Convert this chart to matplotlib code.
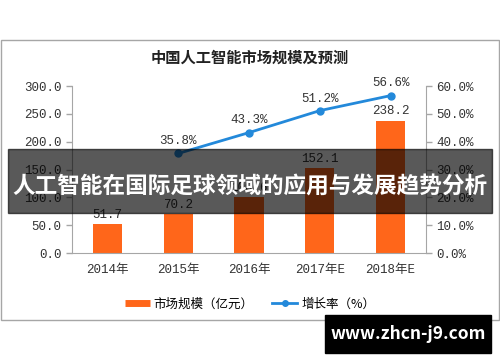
import matplotlib
matplotlib.use("Agg")
from matplotlib import pyplot as plt
from matplotlib.patches import Rectangle
from matplotlib.lines import Line2D
import numpy as np

# data
years = ["2014年", "2015年", "2016年", "2017年E", "2018年E"]
market_size = [51.7, 70.2, 100.6, 152.1, 238.2]
growth_years = ["2015年", "2016年", "2017年E", "2018年E"]
growth_rate = [35.8, 43.3, 51.2, 56.6]

cjk = ["Noto Sans CJK SC", "DejaVu Sans"]
mono = ["Liberation Mono", "Noto Sans CJK SC"]
orange = "#ff661a"
blue = "#2389da"
gray = "#a6a6a6"

fig = plt.figure(figsize=(5.0, 3.62), dpi=100)
ax = fig.add_axes([0.144, 0.301, 0.708, 0.461])
ax2 = ax.twinx()

x = np.arange(len(years))
bars = ax.bar(x, market_size, width=0.41, color=orange, zorder=2)
for xi, v in zip(x, market_size):
    ax.text(xi, v + 6, f"{v:.1f}", ha="center", va="bottom",
            fontsize=9, family=mono, color="#333333")

gx = [years.index(y) for y in growth_years]
ax2.plot(gx, growth_rate, color=blue, lw=2, marker="o", ms=5, zorder=3)
for xi, v in zip(gx, growth_rate):
    ax2.text(xi, v + 2.2, f"{v:.1f}%", ha="center", va="bottom",
             fontsize=9, family=mono, color="#333333")

ax.set_xlim(-0.5, len(years) - 0.5)
ax.set_ylim(0, 300)
ax2.set_ylim(0, 60)
ax.set_yticks(np.arange(0, 301, 50))
ax.set_yticklabels([f"{t:.1f}" for t in np.arange(0, 301, 50)], family=mono, fontsize=9)
ax2.set_yticks(np.arange(0, 61, 10))
ax2.set_yticklabels([f"{t:.1f}%" for t in np.arange(0, 61, 10)], family=mono, fontsize=9)
ax.set_xticks(x)
ax.set_xticklabels(years, family=mono, fontsize=9)

for a in (ax, ax2):
    for s in a.spines.values():
        s.set_visible(False)
    a.tick_params(colors=gray, labelcolor="#333333", length=4, width=1)
ax.spines["left"].set_visible(True)
ax.spines["left"].set_color(gray)
ax.spines["bottom"].set_visible(True)
ax.spines["bottom"].set_color(gray)
ax2.spines["right"].set_visible(True)
ax2.spines["right"].set_color(gray)
ax.tick_params(axis="x", length=0, pad=8)

fig.text(0.5, 0.84, "中国人工智能市场规模及预测", ha="center", va="center",
         fontsize=11, fontweight="bold", family=cjk, color="#222222")

# outer frame
fig.add_artist(Rectangle((0.002, 1 - 320 / 362), 0.996, 280 / 362,
                         transform=fig.transFigure, fill=False, ec=gray, lw=1))

# legend
handles = [Line2D([0], [0], color=orange, lw=5, solid_capstyle="butt"),
           Line2D([0], [0], color=blue, lw=2, marker="o", ms=4)]
fig.legend(handles, ["市场规模（亿元）", "增长率（%）"], loc="center",
           bbox_to_anchor=(0.5, 1 - 304 / 362), ncol=2, frameon=False,
           prop={"family": cjk, "size": 9}, handlelength=2.0,
           handletextpad=0.3, columnspacing=1.5)

# banner overlay
fig.add_artist(Rectangle((8 / 500, 1 - 213 / 362), 484 / 500, 64 / 362,
                         transform=fig.transFigure, color="black", alpha=0.65, zorder=10))
fig.text(0.5, 1 - 186 / 362, "人工智能在国际足球领域的应用与发展趋势分析",
         ha="center", va="center", fontsize=16.3, fontweight="bold",
         family=cjk, color="white", zorder=11)

# site stamp
fig.add_artist(Rectangle((325 / 500, 1 - 353 / 362), 166 / 500, 38 / 362,
                         transform=fig.transFigure, color="black", zorder=10))
fig.text(408 / 500, 1 - 334 / 362, "www.zhcn-j9.com", ha="center", va="center",
         fontsize=12.5, fontweight="bold", family=cjk, color="white", zorder=11)

fig.savefig("out.png", dpi=100)
